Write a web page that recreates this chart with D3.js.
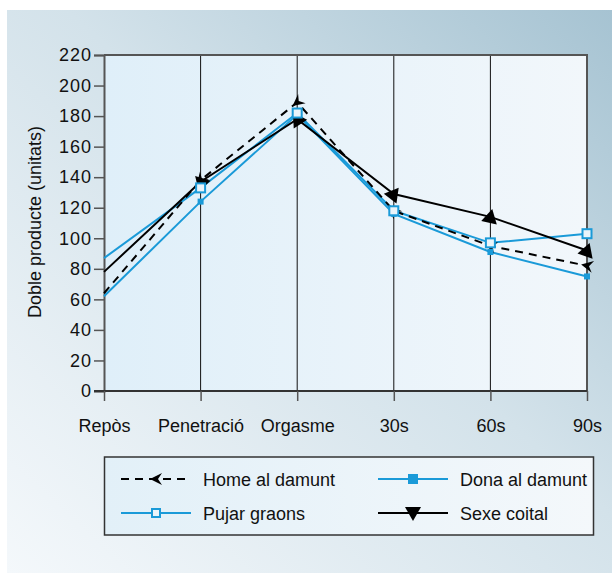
<!DOCTYPE html>
<html><head><meta charset="utf-8">
<script src="https://cdn.jsdelivr.net/npm/d3@7"></script>
<style>html,body{margin:0;padding:0;background:#fff}svg{display:block}</style>
</head><body>
<svg id="c" width="612" height="573"></svg>
<script>
const categories = ["Repòs","Penetració","Orgasme","30s","60s","90s"];
const homeAlDamunt = [64,138,189,118,95,82];
const donaAlDamunt = [62,124,181,116,91,75];
const pujarGraons = [87,133,182,118,97,103];
const sexeCoital = [78,137,178,129,114,92];
const yTicks = [0,20,40,60,80,100,120,140,160,180,200,220];
const seriesNames = ["Home al damunt","Dona al damunt","Pujar graons","Sexe coital"];

(function(){
const BLUE = "#1a9ad8";
const svg = d3.select("#c");
const defs = svg.append("defs");
const g1 = defs.append("linearGradient").attr("id","bg").attr("x1","0%").attr("y1","100%").attr("x2","100%").attr("y2","0%");
g1.append("stop").attr("offset","0%").attr("stop-color","#f4f8fb");
g1.append("stop").attr("offset","55%").attr("stop-color","#d3e2ea");
g1.append("stop").attr("offset","100%").attr("stop-color","#a6c3d2");
const g2 = defs.append("linearGradient").attr("id","pa").attr("x1","0%").attr("y1","0%").attr("x2","100%").attr("y2","0%");
g2.append("stop").attr("offset","0%").attr("stop-color","#dfeff9");
g2.append("stop").attr("offset","100%").attr("stop-color","#f2f7fb");

svg.append("rect").attr("x",7).attr("y",10).attr("width",605).attr("height",563).attr("fill","url(#bg)");

const pL=104,pR=587,pT=55,pB=391;
const x = d3.scalePoint().domain(categories).range([pL,pR]);
const y = d3.scaleLinear().domain([0,220]).range([pB,pT]);

svg.append("rect").attr("x",pL).attr("y",pT).attr("width",pR-pL).attr("height",pB-pT).attr("fill","url(#pa)");

svg.append("g").selectAll("line").data(categories.slice(1,-1)).join("line")
  .attr("x1",d=>x(d)).attr("x2",d=>x(d)).attr("y1",pT).attr("y2",pB)
  .attr("stroke","#111").attr("stroke-width",1);

svg.append("path").attr("d",`M${pL},${pT}H${pR}V${pB}`).attr("fill","none").attr("stroke","#555").attr("stroke-width",2);

const font = "'Liberation Sans', Arial, sans-serif";
const FS = 18;
const ya = svg.append("g").attr("transform",`translate(${pL},0)`)
  .call(d3.axisLeft(y).tickValues(yTicks).tickSize(10).tickPadding(2));
ya.attr("font-family",font).attr("font-size",FS);
ya.select(".domain").attr("stroke","#555").attr("stroke-width",2);
ya.selectAll(".tick line").attr("stroke","#555").attr("stroke-width",1.5);
ya.selectAll("text").attr("fill","#111").attr("letter-spacing",1);

const xa = svg.append("g").attr("transform",`translate(0,${pB})`)
  .call(d3.axisBottom(x).tickSize(10).tickPadding(18).tickSizeOuter(0));
xa.attr("font-family",font).attr("font-size",FS);
xa.select(".domain").attr("stroke","#333").attr("stroke-width",2).attr("d",`M${pL-10},0H${pR}`);
xa.selectAll(".tick line").attr("stroke","#555").attr("stroke-width",1.5);
xa.selectAll("text").attr("fill","#111");

svg.append("text").attr("transform",`translate(41,222) rotate(-90)`).attr("text-anchor","middle")
  .attr("font-family",font).attr("font-size",FS).attr("fill","#111").text("Doble producte (unitats)");

const line = d3.line().x((d,i)=>x(categories[i])).y(d=>y(d));

function angleAt(vals,i){
  const a = i>0 ? i-1 : i, b = i>0 ? i : i+1;
  return Math.atan2(y(vals[b])-y(vals[a]), x(categories[b])-x(categories[a]))*180/Math.PI;
}

const arrowPath = "M6,-6 L-6,0 L6,6 L2,0 Z";
const triPath = "M-8,-6 L8,-6 L0,8 Z";

svg.append("path").attr("d",line(pujarGraons)).attr("fill","none").attr("stroke",BLUE).attr("stroke-width",2);
svg.append("path").attr("d",line(donaAlDamunt)).attr("fill","none").attr("stroke",BLUE).attr("stroke-width",2);
svg.append("path").attr("d",line(sexeCoital)).attr("fill","none").attr("stroke","#000").attr("stroke-width",2);
svg.append("path").attr("d",line(homeAlDamunt)).attr("fill","none").attr("stroke","#000").attr("stroke-width",2).attr("stroke-dasharray","8,6");

svg.append("g").selectAll("path").data(sexeCoital.slice(1)).join("path")
  .attr("d",triPath).attr("fill","#000")
  .attr("transform",(d,i)=>`translate(${x(categories[i+1])},${y(d)}) rotate(${angleAt(sexeCoital,i+1)+180})`);
svg.append("g").selectAll("path").data(homeAlDamunt.slice(1)).join("path")
  .attr("d",arrowPath).attr("fill","#000")
  .attr("transform",(d,i)=>`translate(${x(categories[i+1])},${y(d)}) rotate(${angleAt(homeAlDamunt,i+1)})`);
svg.append("g").selectAll("rect").data(donaAlDamunt.slice(1)).join("rect")
  .attr("x",(d,i)=>x(categories[i+1])-3).attr("y",d=>y(d)-3).attr("width",6).attr("height",6).attr("fill",BLUE);
svg.append("g").selectAll("rect").data(pujarGraons.slice(1)).join("rect")
  .attr("x",(d,i)=>x(categories[i+1])-4.5).attr("y",d=>y(d)-4.5).attr("width",9).attr("height",9)
  .attr("fill","#eaf4fa").attr("stroke",BLUE).attr("stroke-width",2);

const lg = defs.append("linearGradient").attr("id","lg").attr("x1","0%").attr("y1","0%").attr("x2","100%").attr("y2","0%");
lg.append("stop").attr("offset","0%").attr("stop-color","#e2f0f8");
lg.append("stop").attr("offset","100%").attr("stop-color","#f4f8fb");
svg.append("rect").attr("x",104.5).attr("y",457).attr("width",489).attr("height",78).attr("fill","url(#lg)").attr("stroke","#333").attr("stroke-width",1.5);

const items = [
  {name:seriesNames[0], x:121, y:479, color:"#000", dash:"8,6", mk:"arrow"},
  {name:seriesNames[1], x:378, y:479, color:BLUE, dash:null, mk:"fsq"},
  {name:seriesNames[2], x:121, y:513, color:BLUE, dash:null, mk:"osq"},
  {name:seriesNames[3], x:378, y:513, color:"#000", dash:null, mk:"tri"}
];
items.forEach(it=>{
  const g = svg.append("g").attr("transform",`translate(${it.x},${it.y})`);
  g.append("line").attr("x1",0).attr("x2",70).attr("stroke",it.color).attr("stroke-width",2).attr("stroke-dasharray",it.dash);
  const cx = 35;
  if(it.mk==="arrow") g.append("path").attr("d",arrowPath).attr("fill","#000").attr("transform",`translate(${cx},0)`);
  if(it.mk==="fsq") g.append("rect").attr("x",cx-5).attr("y",-5).attr("width",10).attr("height",10).attr("fill",BLUE);
  if(it.mk==="osq") g.append("rect").attr("x",cx-4).attr("y",-4).attr("width",8).attr("height",8).attr("fill","#eaf4fa").attr("stroke",BLUE).attr("stroke-width",2);
  if(it.mk==="tri") g.append("path").attr("d",triPath).attr("fill","#000").attr("transform",`translate(${cx},0)`);
  g.append("text").attr("x",82).attr("y",6.5).attr("font-family",font).attr("font-size",FS).attr("fill","#111").text(it.name);
});
})();
</script>
</body></html>
